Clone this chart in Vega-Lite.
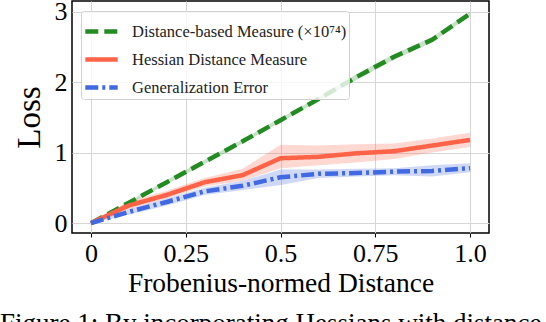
{
  "$schema": "https://vega.github.io/schema/vega-lite/v6.json",
  "width": 417,
  "height": 232,
  "autosize": {"type": "none"},
  "padding": {"left": 72, "top": 1, "right": 57, "bottom": 89},
  "background": "white",
  "config": {
    "view": {"stroke": "black", "strokeWidth": 1.5},
    "font": "Liberation Serif"
  },
  "title": {
    "text": "Figure 1: By incorporating Hessians with distance",
    "orient": "bottom",
    "anchor": "start",
    "frame": "group",
    "dx": -72,
    "offset": 14,
    "fontSize": 27,
    "font": "Liberation Serif",
    "fontWeight": "normal",
    "color": "black"
  },
  "data": {
    "values": [
      {"x": 0.0, "s": "Distance-based Measure (×10⁷⁴)", "y": 0.0, "lo": 0.0, "hi": 0.0},
      {"x": 0.1, "s": "Distance-based Measure (×10⁷⁴)", "y": 0.29, "lo": 0.27, "hi": 0.31},
      {"x": 0.2, "s": "Distance-based Measure (×10⁷⁴)", "y": 0.58, "lo": 0.55, "hi": 0.61},
      {"x": 0.3, "s": "Distance-based Measure (×10⁷⁴)", "y": 0.87, "lo": 0.84, "hi": 0.9},
      {"x": 0.4, "s": "Distance-based Measure (×10⁷⁴)", "y": 1.16, "lo": 1.13, "hi": 1.19},
      {"x": 0.5, "s": "Distance-based Measure (×10⁷⁴)", "y": 1.46, "lo": 1.43, "hi": 1.49},
      {"x": 0.6, "s": "Distance-based Measure (×10⁷⁴)", "y": 1.76, "lo": 1.73, "hi": 1.79},
      {"x": 0.7, "s": "Distance-based Measure (×10⁷⁴)", "y": 2.07, "lo": 2.03, "hi": 2.11},
      {"x": 0.8, "s": "Distance-based Measure (×10⁷⁴)", "y": 2.36, "lo": 2.32, "hi": 2.4},
      {"x": 0.9, "s": "Distance-based Measure (×10⁷⁴)", "y": 2.6, "lo": 2.56, "hi": 2.64},
      {"x": 1.0, "s": "Distance-based Measure (×10⁷⁴)", "y": 2.97, "lo": 2.94, "hi": 3.0},
      {"x": 0.0, "s": "Hessian Distance Measure", "y": 0.0, "lo": 0.0, "hi": 0.0},
      {"x": 0.1, "s": "Hessian Distance Measure", "y": 0.25, "lo": 0.2, "hi": 0.31},
      {"x": 0.2, "s": "Hessian Distance Measure", "y": 0.4, "lo": 0.35, "hi": 0.46},
      {"x": 0.3, "s": "Hessian Distance Measure", "y": 0.58, "lo": 0.52, "hi": 0.64},
      {"x": 0.4, "s": "Hessian Distance Measure", "y": 0.68, "lo": 0.6, "hi": 0.77},
      {"x": 0.5, "s": "Hessian Distance Measure", "y": 0.92, "lo": 0.78, "hi": 1.11},
      {"x": 0.6, "s": "Hessian Distance Measure", "y": 0.94, "lo": 0.82, "hi": 1.1},
      {"x": 0.7, "s": "Hessian Distance Measure", "y": 0.99, "lo": 0.86, "hi": 1.12},
      {"x": 0.8, "s": "Hessian Distance Measure", "y": 1.02, "lo": 0.91, "hi": 1.13},
      {"x": 0.9, "s": "Hessian Distance Measure", "y": 1.1, "lo": 1.0, "hi": 1.2},
      {"x": 1.0, "s": "Hessian Distance Measure", "y": 1.18, "lo": 1.08, "hi": 1.28},
      {"x": 0.0, "s": "Generalization Error", "y": 0.0, "lo": 0.0, "hi": 0.0},
      {"x": 0.1, "s": "Generalization Error", "y": 0.16, "lo": 0.12, "hi": 0.2},
      {"x": 0.2, "s": "Generalization Error", "y": 0.3, "lo": 0.25, "hi": 0.35},
      {"x": 0.3, "s": "Generalization Error", "y": 0.45, "lo": 0.4, "hi": 0.5},
      {"x": 0.4, "s": "Generalization Error", "y": 0.53, "lo": 0.47, "hi": 0.6},
      {"x": 0.5, "s": "Generalization Error", "y": 0.65, "lo": 0.54, "hi": 0.76},
      {"x": 0.6, "s": "Generalization Error", "y": 0.7, "lo": 0.64, "hi": 0.76},
      {"x": 0.7, "s": "Generalization Error", "y": 0.71, "lo": 0.66, "hi": 0.77},
      {"x": 0.8, "s": "Generalization Error", "y": 0.73, "lo": 0.68, "hi": 0.78},
      {"x": 0.9, "s": "Generalization Error", "y": 0.74, "lo": 0.66, "hi": 0.82},
      {"x": 1.0, "s": "Generalization Error", "y": 0.78, "lo": 0.72, "hi": 0.85}
    ]
  },
  "encoding": {
    "x": {
      "field": "x",
      "type": "quantitative",
      "scale": {"domain": [-0.05, 1.05], "nice": false, "zero": false},
      "axis": {
        "title": "Frobenius-normed Distance",
        "values": [0, 0.25, 0.5, 0.75, 1.0],
        "labelExpr": "datum.value == 1 ? '1.0' : '' + datum.value",
        "labelFontSize": 26,
        "labelFont": "Liberation Serif",
        "labelColor": "black",
        "titleFontSize": 27.5,
        "titleFont": "Liberation Serif",
        "titleFontWeight": "normal",
        "titleColor": "black",
        "titlePadding": 3,
        "labelPadding": 3,
        "domain": false,
        "ticks": true,
        "tickColor": "black",
        "tickSize": 4,
        "gridColor": "#d6d6d6",
        "labelFlush": false
      }
    },
    "y": {
      "type": "quantitative",
      "scale": {"domain": [-0.14, 3.15], "nice": false, "zero": false},
      "axis": {
        "title": "Loss",
        "values": [0, 1, 2, 3],
        "labelFontSize": 26,
        "labelFont": "Liberation Serif",
        "labelColor": "black",
        "titleFontSize": 33,
        "titleFont": "Liberation Serif",
        "titleFontWeight": "normal",
        "titleColor": "black",
        "titlePadding": 8,
        "labelPadding": 5,
        "domain": false,
        "ticks": false,
        "gridColor": "#d6d6d6",
        "labelFlush": false
      }
    },
    "color": {
      "field": "s", "type": "nominal",
      "scale": {"domain": ["Distance-based Measure (×10⁷⁴)", "Hessian Distance Measure", "Generalization Error"], "range": ["#228b22", "#ff6347", "#4169e1"]},
      "legend": {
        "title": null,
        "orient": "none",
        "legendX": 9,
        "legendY": 10,
        "labelFontSize": 16.5,
        "labelFont": "Liberation Serif",
        "labelColor": "#222",
        "symbolType": "stroke",
        "symbolStrokeWidth": 4.5,
        "symbolSize": 1050,
        "symbolOpacity": 1,
        "rowPadding": -7,
        "labelOffset": 12,
        "padding": 2,
        "fillColor": "rgba(255,255,255,0.8)",
        "strokeColor": "#d0d0d0",
        "cornerRadius": 3,
        "labelLimit": 400
      }
    }
  },
  "layer": [
    {
      "mark": {"type": "area", "opacity": 0.25},
      "encoding": {
        "y": {"field": "lo", "type": "quantitative"},
        "y2": {"field": "hi"}
      }
    },
    {
      "mark": {"type": "line", "strokeWidth": 4.5},
      "encoding": {
        "y": {"field": "y", "type": "quantitative"},
        "strokeDash": {
          "field": "s", "type": "nominal",
          "scale": {"domain": ["Distance-based Measure (×10⁷⁴)", "Hessian Distance Measure", "Generalization Error"], "range": [[13, 6], [1, 0], [13, 4, 3, 4]]},
          "legend": {
            "title": null,
            "orient": "none",
            "legendX": 9,
            "legendY": 10,
            "labelFontSize": 16.5,
            "labelFont": "Liberation Serif",
            "labelColor": "#222",
            "symbolType": "stroke",
            "symbolStrokeWidth": 4.5,
            "symbolSize": 1050,
            "symbolOpacity": 1,
            "rowPadding": -7,
            "labelOffset": 12,
            "padding": 2,
            "fillColor": "rgba(255,255,255,0.8)",
            "strokeColor": "#d0d0d0",
            "cornerRadius": 3,
            "labelLimit": 400
          }
        }
      }
    }
  ]
}
